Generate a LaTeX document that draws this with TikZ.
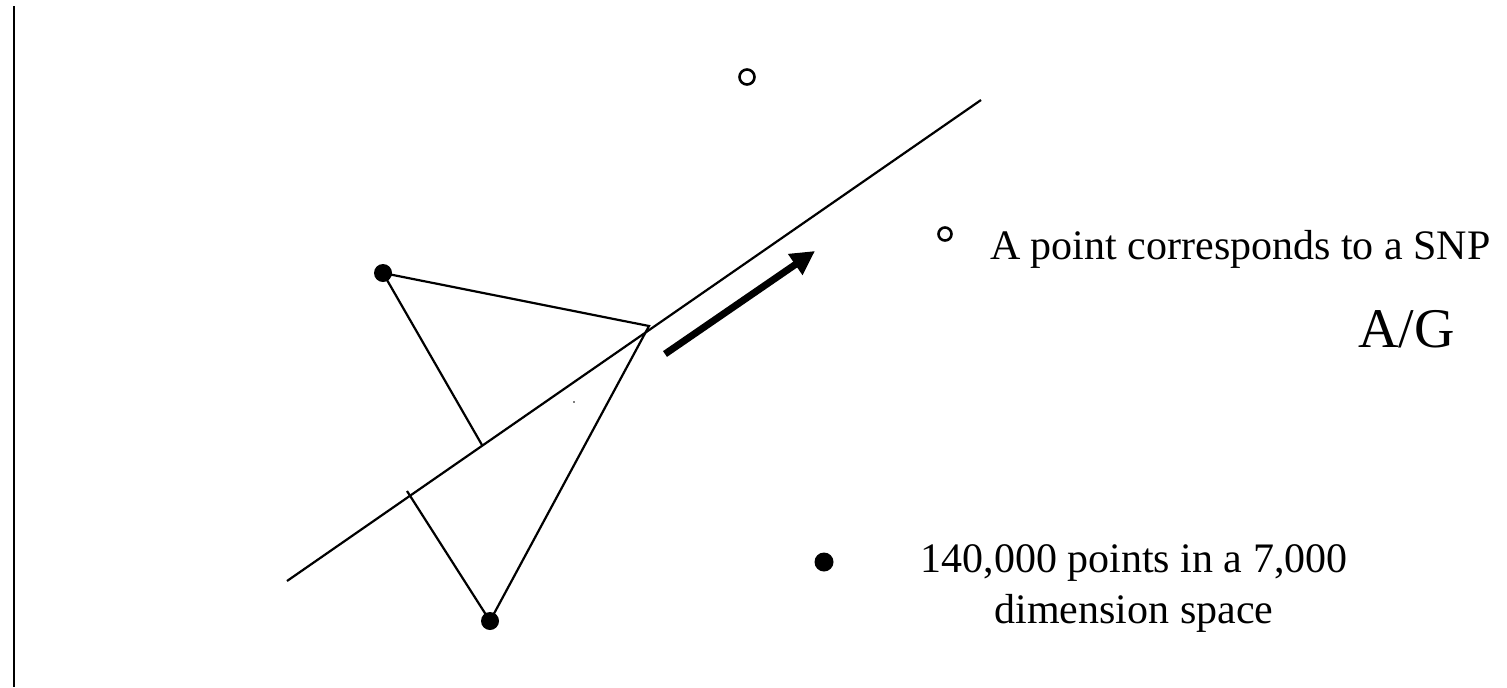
\documentclass[tikz,border=0pt]{standalone}
\usepackage{fontspec}
\setmainfont{Liberation Serif}
\usetikzlibrary{arrows.meta}
\tikzset{
  lbl/.style={anchor=base west,inner sep=0pt,font=\fontsize{21}{25}\selectfont},
  snp/.style={line width=1.3pt},
}
\begin{document}
\begin{tikzpicture}[x=0.5pt,y=-0.5pt,line width=1.1pt]
\useasboundingbox (0,0) rectangle (1507,687);
\coordinate (axtop) at (14,6);
\coordinate (axbot) at (14,687);
\draw[line width=1.4pt] (axtop)--(axbot);
\coordinate (l0) at (287,581);
\coordinate (l1) at (981,100);
\coordinate (A) at (383,273);
\coordinate (B) at (490,621);
\coordinate (P) at (649,326);
\coordinate (fa) at (482,445);
\coordinate (fb) at (407,491);
\draw (l0)--(l1);
\draw (A)--(P)--(B);
\draw (A)--(fa);
\draw (B)--(fb);
\fill (A) circle (9);
\fill (B) circle (9);
\fill[black!50] (573,401) rectangle ++(2,2);
\coordinate (top) at (747,77);
\draw[snp] (top) circle (7.5);
\coordinate (tail) at (665,354);
\coordinate (tip) at (815,251);
\draw[line width=3.5pt,-{Triangle[length=12pt,width=12pt]}] (tail)--(tip);
\coordinate (keyo) at (945,234);
\draw[snp] (keyo) circle (6.5);
\node[lbl] (snptxt) at (989,259) {A point corresponds to a SNP};
\node[lbl,font=\fontsize{28}{32}\selectfont] (ag) at (1357,347) {A/G};
\coordinate (keyf) at (824,562);
\fill (keyf) circle (9.5);
\node[lbl,anchor=base] (pts1) at (1134,572) {140,000 points in a 7,000};
\node[lbl,anchor=base] (pts2) at (1134,623) {dimension space};
\end{tikzpicture}
\end{document}
